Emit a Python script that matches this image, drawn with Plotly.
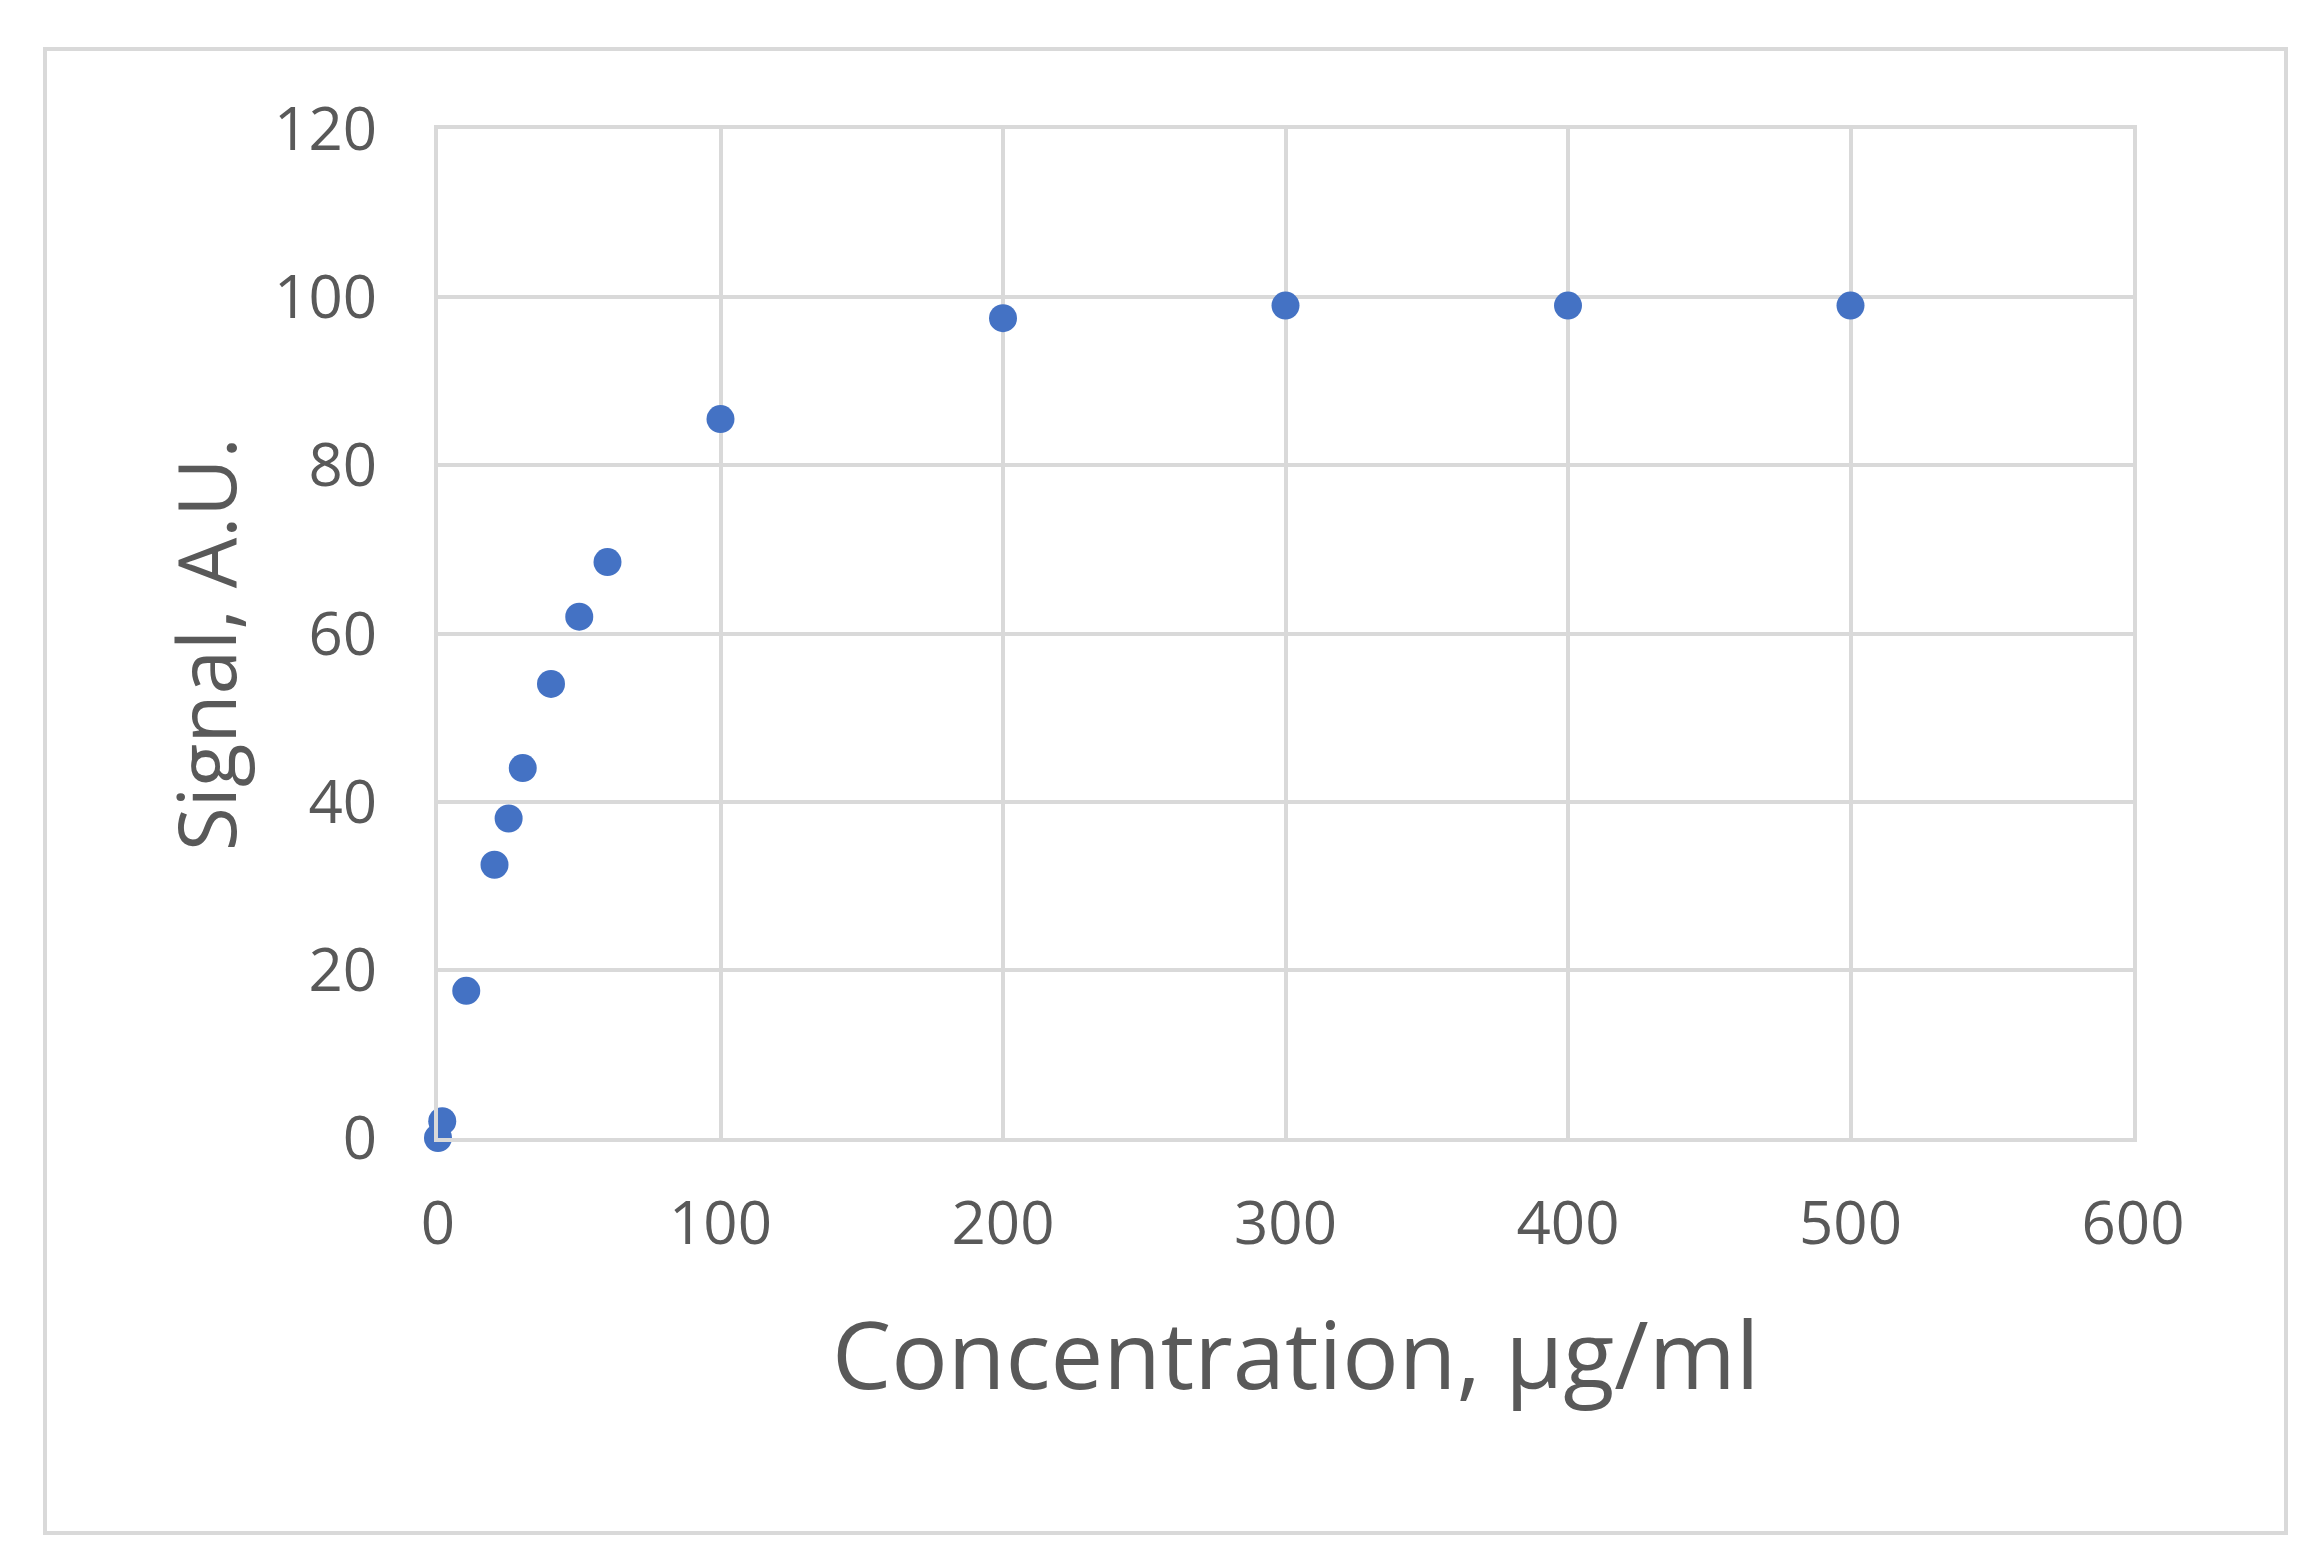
import plotly.graph_objects as go

conc = [0, 1.5, 10, 20, 25, 30, 40, 50, 60, 100, 200, 300, 400, 500]
signal = [0, 2, 17.5, 32.5, 38, 44, 54, 62, 68.5, 85.5, 97.5, 99, 99, 99]
xticks = [0, 100, 200, 300, 400, 500, 600]
yticks = [0, 20, 40, 60, 80, 100, 120]

W, H = 2310, 1560
L, R, T, B = 430, 185, 121, 430
fig = go.Figure(go.Scatter(x=conc, y=signal, mode="markers", cliponaxis=False,
                           marker=dict(color="#4472C4", size=28)))
font = dict(family="Open Sans, Liberation Sans, sans-serif", color="#595959")
fig.update_layout(
    width=W, height=H, paper_bgcolor="white", plot_bgcolor="white",
    margin=dict(l=L, r=R, t=T, b=B), showlegend=False,
    font=dict(**font, size=60),
    xaxis=dict(range=[0, 600], tickvals=xticks, showgrid=True, gridcolor="#d9d9d9",
               gridwidth=4, zeroline=False, showline=True, linecolor="#d9d9d9", linewidth=4,
               mirror=True, ticks="", ticklabelstandoff=30, tickfont=dict(size=60)),
    yaxis=dict(range=[0, 120], tickvals=yticks, showgrid=True, gridcolor="#d9d9d9",
               gridwidth=4, zeroline=False, showline=True, linecolor="#d9d9d9", linewidth=4,
               mirror=True, ticks="", ticklabelstandoff=45, tickfont=dict(size=60)),
    shapes=[dict(type="rect", xref="paper", yref="paper",
                 x0=-(L-37)/(W-L-R), x1=1+(R-32)/(W-L-R),
                 y0=-(B-35)/(H-T-B), y1=1+(T-41)/(H-T-B),
                 line=dict(color="#d9d9d9", width=4))],
    annotations=[
        dict(text="Concentration, µg/ml", xref="paper", yref="paper",
             x=(1288-L)/(W-L-R), y=-(1345-H+B)/(H-T-B), showarrow=False,
             font=dict(**font, size=94), yanchor="middle"),
        dict(text="Signal, A.U.", xref="paper", yref="paper", textangle=-90,
             x=-(L-197)/(W-L-R), y=(H-B-636)/(H-T-B), showarrow=False,
             font=dict(**font, size=80), xanchor="center"),
    ],
)
fig.write_html("out.html")
